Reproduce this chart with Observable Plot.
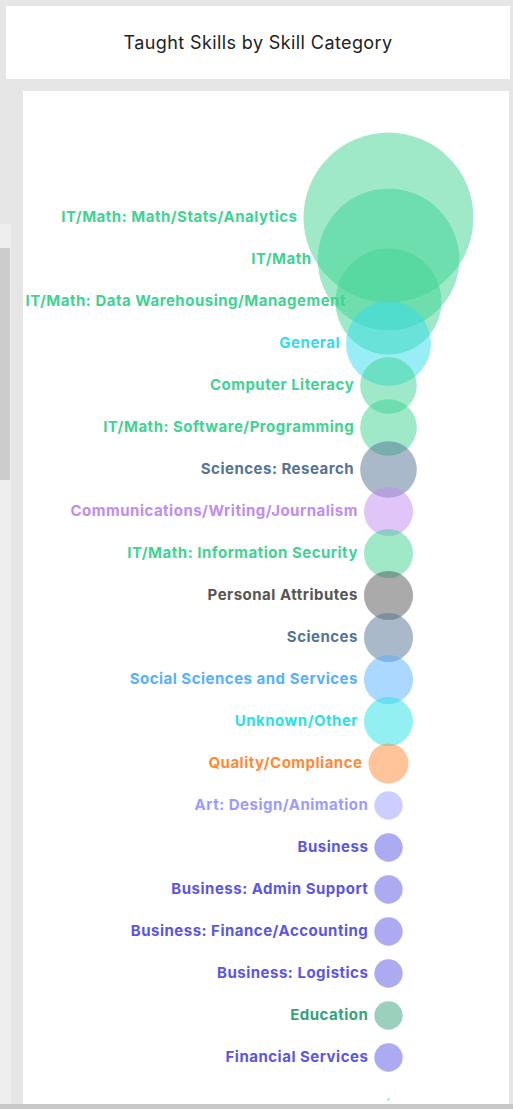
<!DOCTYPE html>
<html><head><meta charset="utf-8">
<script src="https://cdn.jsdelivr.net/npm/d3@7"></script>
<script src="https://cdn.jsdelivr.net/npm/@observablehq/plot@0.6"></script>
<style>
html,body{margin:0;padding:0}
body{background:#e6e6e6;width:513px;height:1109px;overflow:hidden;position:relative;font-family:Inter,sans-serif}
#title{position:absolute;left:6px;top:6px;width:504px;height:73px;background:#fff;display:flex;align-items:center;justify-content:center;font-size:18px;letter-spacing:0.4px;color:#222}
#strip{position:absolute;left:0;top:224px;width:11px;height:880px;background:#eeeeee}
#thumb{position:absolute;left:0;top:248px;width:10px;height:232px;background:#cccccc}
#panel{position:absolute;left:23px;top:91px;width:486px;height:1013px;background:#fff;overflow:hidden}
#panel text{letter-spacing:0.5px}
#bottom{position:absolute;left:0;top:1104px;width:513px;height:5px;background:#c8c8c8}
svg{display:block}
</style></head>
<body>
<div id="title">Taught Skills by Skill Category</div>
<div id="strip"></div><div id="thumb"></div>
<div id="panel"></div>
<div id="bottom"></div>
<script>
const categories = [
  "IT/Math: Math/Stats/Analytics","IT/Math","IT/Math: Data Warehousing/Management","General",
  "Computer Literacy","IT/Math: Software/Programming","Sciences: Research",
  "Communications/Writing/Journalism","IT/Math: Information Security","Personal Attributes",
  "Sciences","Social Sciences and Services","Unknown/Other","Quality/Compliance",
  "Art: Design/Animation","Business","Business: Admin Support","Business: Finance/Accounting",
  "Business: Logistics","Education","Financial Services","(other)"
];
const values = [72, 50, 28, 18, 8, 8, 8, 6, 6, 6, 6, 6, 6, 4, 2, 2, 2, 2, 2, 2, 2, 0.02];
const groups = [
  "IT/Math","IT/Math","IT/Math","General","IT/Math","IT/Math","Sciences",
  "Communications","IT/Math","Personal Attributes","Sciences","Social Sciences",
  "Unknown/Other","Quality/Compliance","Art","Business","Business","Business",
  "Business","Education","Business","Unknown/Other"
];
const groupNames = ["IT/Math","General","Sciences","Communications","Personal Attributes","Social Sciences","Unknown/Other","Quality/Compliance","Art","Business","Education"];
const groupColors = ["#3fd393","#33dcec","#537494","#c08cf2","#555555","#55b1ff","#28e2e6","#ff8a36","#9b9bff","#5a56e4","#35a27a"];

const rows = categories.map((c, i) => ({category: c, value: values[i], group: groups[i]}));
const W = 486, H = 1013, cx = 365, rMax = 85;
const rScale = Plot.scale({r: {type: "sqrt", domain: [0, d3.max(values)], range: [0, rMax]}});
const fam = "Inter", fsize = 15, ls = 0.5;
const ctx = document.createElement("canvas").getContext("2d");
ctx.font = `bold ${fsize}px ${fam}`;

const labelMarks = rows.filter(d => d.value >= 1).map(d => {
  const r = rScale.apply(d.value);
  const w = ctx.measureText(d.category).width + ls * d.category.length;
  const end = cx - r - 6;
  const fits = end - w >= 2;
  return Plot.text([d], {
    y: "category", text: "category", fill: "group",
    textAnchor: fits ? "end" : "start",
    dx: fits ? -(r + 6) : 2 - cx,
    fontSize: fsize, fontWeight: 700, fontFamily: fam
  });
});

const chart = Plot.plot({
  width: W, height: H,
  marginLeft: 2 * cx - W, marginRight: 0, marginTop: 125, marginBottom: 5,
  y: {type: "point", domain: categories, padding: 0, axis: null},
  r: {type: "sqrt", domain: [0, d3.max(values)], range: [0, rMax]},
  color: {domain: groupNames, range: groupColors},
  style: {background: "transparent", overflow: "visible"},
  marks: [
    Plot.dot(rows, {y: "category", r: "value", fill: "group", fillOpacity: 0.5, stroke: null}),
    ...labelMarks
  ]
});
document.getElementById("panel").appendChild(chart);
</script>
</body></html>
